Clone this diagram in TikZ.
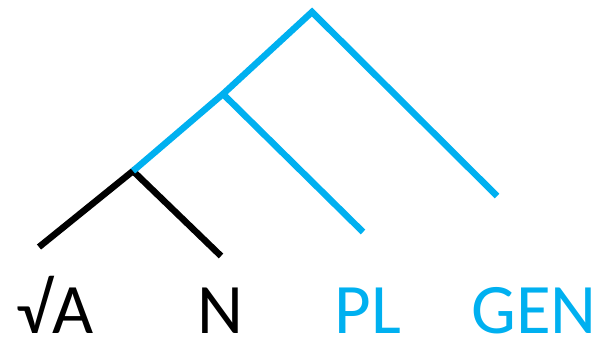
\documentclass[tikz,border=0pt]{standalone}
\usepackage{fontspec}
\setmainfont{Carlito}
\definecolor{featblue}{HTML}{00B0F0}
\begin{document}
\begin{tikzpicture}[x=1pt,y=-1pt,
  branch/.style={line width=6.5pt},
  rootbranch/.style={branch,black},
  featbranch/.style={branch,featblue},
  leaf/.style={anchor=base,inner sep=0pt,text depth=0pt,font=\fontsize{71}{71}\selectfont}]
\useasboundingbox (0,0) rectangle (600,341);
% tree positions
\coordinate (top) at (312,12);
\coordinate (mid) at (223,94);
\coordinate (low) at (133,171);
\coordinate (la) at (39,247);
\coordinate (ln) at (221,256);
\coordinate (lpl) at (363,232);
\coordinate (lgen) at (497,196);
% branches
\draw[rootbranch] (la) -- (low) -- (ln);
\draw[featbranch] (low) -- (mid) -- (top) -- (lgen);
\draw[featbranch] (mid) -- (lpl);
% labels
\node[leaf] (tA) at (55,333) {√A};
\node[leaf] (tN) at (220,333) {N};
\node[leaf,text=featblue] (tPL) at (368,333) {PL};
\node[leaf,text=featblue] (tGEN) at (534,333) {GEN};
\end{tikzpicture}
\end{document}
